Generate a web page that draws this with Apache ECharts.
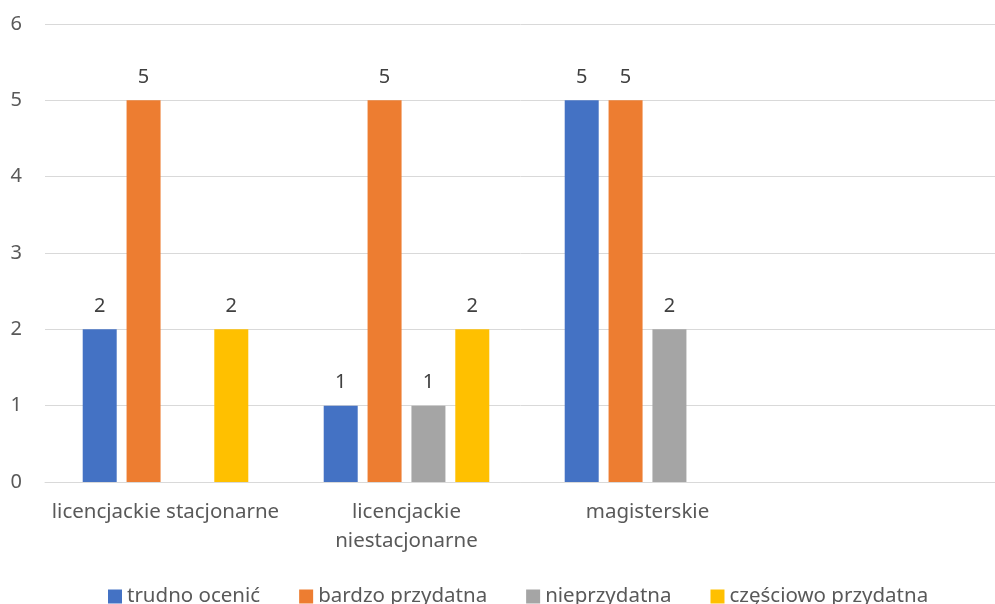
<!DOCTYPE html>
<html><head><meta charset="utf-8">
<script src="https://cdn.jsdelivr.net/npm/echarts@6/dist/echarts.min.js"></script>
<style>html,body{margin:0;padding:0;background:#fff}#c{width:995px;height:604px}</style>
</head><body><div id="c"></div>
<script>
const categories = ['licencjackie stacjonarne', 'licencjackie\nniestacjonarne', 'magisterskie', ''];
const seriesNames = ['trudno ocenić', 'bardzo przydatna', 'nieprzydatna', 'częściowo przydatna'];
const trudno = [2, 1, 5, null];
const bardzo = [5, 5, 5, null];
const nieprzydatna = [null, 1, 2, null];
const czesciowo = [2, 2, null, null];
const yTicks = [0, 1, 2, 3, 4, 5, 6];
const colors = ['#4472c4', '#ed7d31', '#a5a5a5', '#ffc000'];
const values = [trudno, bardzo, nieprzydatna, czesciowo];

const FONT = 'Noto Sans';
const chart = echarts.init(document.getElementById('c'), null, {renderer: 'canvas'});
chart.setOption({
  animation: false,
  textStyle: {fontFamily: FONT},
  grid: {left: 45, top: 24, right: -14, bottom: 122, containLabel: false, outerBoundsMode: 'none'},
  legend: {
    bottom: -8, left: 103,
    itemWidth: 14, itemHeight: 14, itemGap: 39,
    icon: 'rect',
    textStyle: {fontSize: 20.5, color: '#595959', fontFamily: FONT},
    data: seriesNames
  },
  xAxis: {
    type: 'category', data: categories,
    axisLine: {lineStyle: {color: '#d9d9d9', width: 1}},
    axisTick: {show: false},
    axisLabel: {color: '#595959', fontSize: 20.5, lineHeight: 29, margin: 16, interval: 0}
  },
  yAxis: {
    type: 'value', min: yTicks[0], max: yTicks[yTicks.length - 1], interval: 1,
    axisLine: {show: false}, axisTick: {show: false},
    splitLine: {lineStyle: {color: '#d9d9d9', width: 1}},
    axisLabel: {color: '#595959', fontSize: 20, margin: 23}
  },
  series: seriesNames.map((n, i) => ({
    name: n, type: 'bar', data: values[i],
    barWidth: 34, barGap: '29%',
    itemStyle: {color: colors[i]},
    label: {show: true, position: 'top', distance: 13, color: '#404040', fontSize: 20, fontFamily: FONT}
  }))
});
</script></body></html>
